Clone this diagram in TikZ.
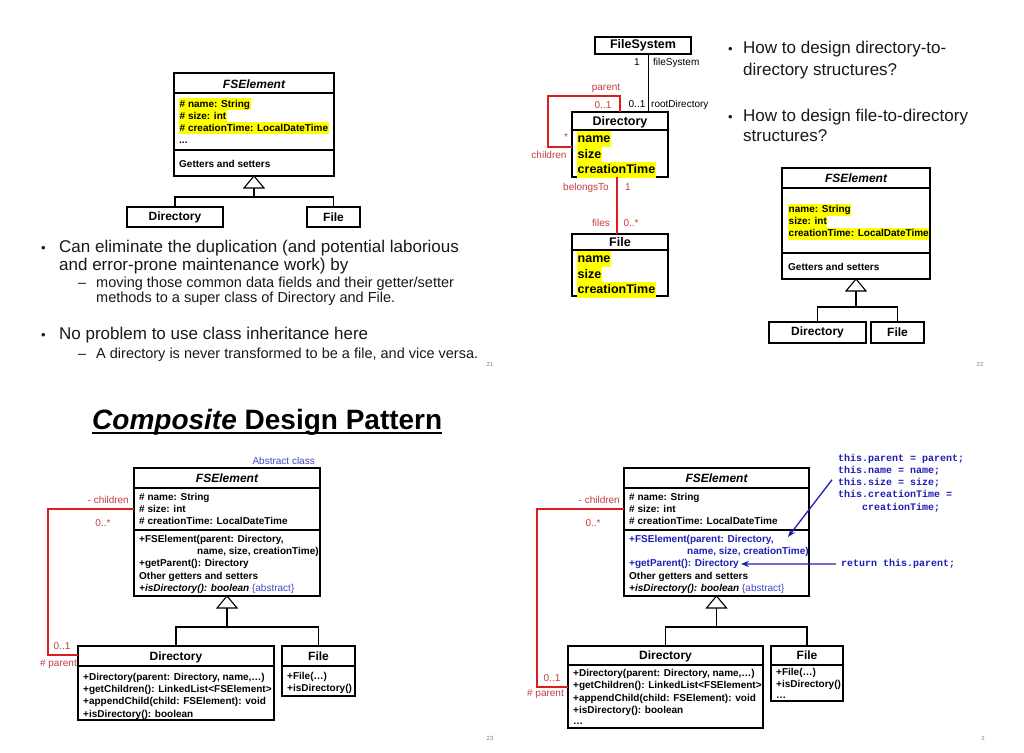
\documentclass[tikz,border=0pt]{standalone}
\usepackage{fontspec}
\setmainfont{Liberation Sans}
\newfontfamily\codefont{Liberation Mono}
\usetikzlibrary{arrows.meta}

\definecolor{umlred}{RGB}{220,30,30}
\definecolor{lblred}{RGB}{200,60,60}
\definecolor{hiyellow}{RGB}{255,255,0}
\definecolor{mblue}{RGB}{30,30,180}
\definecolor{ablue}{RGB}{70,70,200}
\definecolor{slidetxt}{RGB}{25,25,25}

\tikzset{
  cls/.style={draw, line width=1.1pt, inner sep=0pt, outer sep=0pt, font=\bfseries\fontsize{12}{14}\selectfont},
  lft/.style={anchor=base west, inner sep=0pt, font=\bfseries\fontsize{10}{12}\selectfont},
  hl/.style={lft, fill=hiyellow, inner xsep=0.5pt, inner ysep=0.5pt, text height=8.5pt, text depth=2.5pt},
  hlbig/.style={hl, font=\bfseries\fontsize{12.5}{14}\selectfont, text height=10.5pt, text depth=3.5pt, inner ysep=0.75pt},
  ttl/.style={anchor=base, inner sep=0pt, font=\bfseries\itshape\fontsize{12}{14}\selectfont},
  lbl/.style={inner sep=0pt, text=lblred, font=\fontsize{10}{12}\selectfont},
  blbl/.style={inner sep=0pt, font=\fontsize{10}{12}\selectfont},
  bul/.style={anchor=base west, inner sep=0pt, text=slidetxt, font=\fontsize{17}{20}\selectfont},
  subbul/.style={bul, font=\fontsize{14.5}{17}\selectfont},
  codeln/.style={anchor=base west, inner sep=0pt, text=mblue, font=\codefont\bfseries\fontsize{10}{12}\selectfont},
  pgno/.style={anchor=base, inner sep=0pt, text=gray, font=\fontsize{6}{7}\selectfont},
  gen/.style={draw, line width=1.1pt},
  assoc/.style={draw=umlred, line width=1.8pt},
  ptr/.style={mblue, line width=1.3pt, -{Stealth[length=8pt,width=6pt]}}
}
\newcommand{\bdot}[1]{\makebox[#1][l]{\fontsize{13}{14}\selectfont\textbullet}}
\newcommand{\bdash}{\makebox[18pt][l]{--}}

\begin{document}
\begin{tikzpicture}[x=1pt,y=-1pt]
  \fill[white] (0,0) rectangle (1024,752);
  \useasboundingbox (0,0) rectangle (1024,752);

  % ---- slide 21 ----
  % Nodes
  \node[cls, minimum width=160pt, minimum height=103pt] (fse1) at (254,124.5) {};
  \node[ttl] (fse1t) at (254,88) {FSElement};
  \node[hl] (fse1a) at (179,107) {\# name: String};
  \node[hl] (fse1b) at (179,119) {\# size: int};
  \node[hl] (fse1c) at (179,131) {\# creationTime: LocalDateTime};
  \node[lft] (fse1d) at (179,143) {...};
  \node[lft] (fse1m) at (179,167.5) {Getters and setters};
  \node[cls, minimum width=96pt, minimum height=20pt] (dir1) at (175,217) {Directory};
  \node[cls, minimum width=53pt, minimum height=20pt] (file1) at (333.5,217) {File};
  \coordinate (j1) at (254,197);

  \node[bul] (b1a) at (41,252) {\bdot{18pt}Can eliminate the duplication (and potential laborious};
  \node[bul] (b1b) at (59,270) {and error-prone maintenance work) by};
  \node[subbul] (b1c) at (78,287) {\bdash moving those common data fields and their getter/setter};
  \node[subbul] (b1d) at (96,302) {methods to a super class of Directory and File.};
  \node[bul] (b1e) at (41,339) {\bdot{18pt}No problem to use class inheritance here};
  \node[subbul] (b1f) at (78,358) {\bdash A directory is never transformed to be a file, and vice versa.};
  \node[pgno] (pg1) at (490,366) {21};

  % Edges
  \draw[gen] (fse1.west |- 0,93) -- (fse1.east |- 0,93);
  \draw[gen] (fse1.west |- 0,150) -- (fse1.east |- 0,150);
  \draw[gen, fill=white] (fse1.south) -- ++(10,12) -- ++(-20,0) -- cycle;
  \path (fse1.south) ++(0,12) coordinate (tb1);
  \draw[gen] (tb1) -- (j1);
  \draw[gen] (dir1.north) |- (j1) -| (file1.north);

  % ---- slide 22 ----
  % Nodes
  \node[cls, font=\bfseries\fontsize{12.5}{14}\selectfont, minimum width=96pt, minimum height=17pt] (fs) at (643,45.5) {FileSystem};
  \node[blbl, anchor=base] (fsm) at (637,66) {1};
  \node[blbl, anchor=base west] (fsr) at (653,66) {fileSystem};
  \node[lbl, anchor=base] (par2) at (606,90.5) {parent};
  \node[lbl, anchor=base] (par2m) at (603,108.5) {0..1};
  \node[blbl, anchor=base] (root2m) at (637,107.5) {0..1};
  \node[blbl, anchor=base west] (root2) at (651,107.5) {rootDirectory};
  \node[cls, minimum width=96pt, minimum height=65pt] (dir2) at (620,144.5) {};
  \node[anchor=base, inner sep=0pt, font=\bfseries\fontsize{12.5}{14}\selectfont] (dir2t) at (620,125.5) {Directory};
  \node[hlbig] (dir2a) at (577,142.5) {name};
  \node[hlbig] (dir2b) at (577,158) {size};
  \node[hlbig] (dir2c) at (577,173.5) {creationTime};
  \node[lbl, anchor=base] (chl2m) at (566,140) {*};
  \node[lbl, anchor=base] (chl2) at (549,158.5) {children};
  \node[lbl, anchor=base] (bel2) at (586,190.5) {belongsTo};
  \node[lbl, anchor=base] (bel2m) at (628,190.5) {1};
  \node[lbl, anchor=base] (fls2) at (601,226.5) {files};
  \node[lbl, anchor=base] (fls2m) at (631,226.5) {0..*};
  \node[cls, minimum width=96pt, minimum height=62pt] (file2) at (620,265) {};
  \node[anchor=base, inner sep=0pt, font=\bfseries\fontsize{12.5}{14}\selectfont] (file2t) at (620,246.5) {File};
  \node[hlbig] (file2a) at (577,262.5) {name};
  \node[hlbig] (file2b) at (577,278) {size};
  \node[hlbig] (file2c) at (577,293.5) {creationTime};
  \coordinate (fsx) at (648,0);
  \coordinate (bx) at (617,0);
  \coordinate (lp1) at (548,96);
  \coordinate (lp2) at (548,147);

  \node[bul] (b2a) at (728,54) {\bdot{15pt}How to design directory-to-};
  \node[bul] (b2b) at (743,75) {directory structures?};
  \node[bul] (b2c) at (728,121.5) {\bdot{15pt}How to design file-to-directory};
  \node[bul] (b2d) at (743,141.5) {structures?};

  \node[cls, minimum width=148pt, minimum height=111pt] (fse2) at (856,223.5) {};
  \node[ttl] (fse2t) at (856,182.5) {FSElement};
  \node[hl] (fse2a) at (788,212.5) {name: String};
  \node[hl] (fse2b) at (788,224.5) {size: int};
  \node[hl] (fse2c) at (788,236.5) {creationTime: LocalDateTime};
  \node[lft] (fse2m) at (788,270.5) {Getters and setters};
  \node[cls, minimum width=97pt, minimum height=21pt] (dir2s) at (817.5,332.5) {Directory};
  \node[cls, minimum width=53pt, minimum height=21pt] (file2s) at (897.5,332.5) {File};
  \coordinate (j2) at (856,307);
  \node[pgno] (pg2) at (980,366) {22};

  % Edges
  \draw[gen, line width=1pt] (fs.south -| fsx) -- (dir2.north -| fsx);
  \draw[gen] (dir2.west |- 0,130) -- (dir2.east |- 0,130);
  \draw[gen] (file2.west |- 0,250) -- (file2.east |- 0,250);
  \draw[assoc] (dir2.north) |- (lp1) -- (lp2) -- (dir2.west |- lp2);
  \draw[assoc] (dir2.south -| bx) -- (file2.north -| bx);
  \draw[gen] (fse2.west |- 0,188) -- (fse2.east |- 0,188);
  \draw[gen] (fse2.west |- 0,253) -- (fse2.east |- 0,253);
  \draw[gen, fill=white] (fse2.south) -- ++(10,12) -- ++(-20,0) -- cycle;
  \path (fse2.south) ++(0,12) coordinate (tb2);
  \draw[gen] (tb2) -- (j2);
  \draw[gen] (dir2s.north) |- (j2) -| (file2s.north);

  % ---- slide 23 ----
  % Nodes
  \node[anchor=base west, inner sep=0pt, font=\bfseries\fontsize{28}{32}\selectfont] (ttl3) at (92,429) {\textit{Composite} Design Pattern};
  \node[blbl, text=ablue, anchor=base east] (abs3) at (315,464.5) {Abstract class};
  \node[cls, minimum width=186pt, minimum height=128pt] (fse3) at (227,532) {};
  \node[ttl] (fse3t) at (227,482) {FSElement};
  \node[lft] (fse3a) at (139,500.5) {\# name: String};
  \node[lft] (fse3b) at (139,512.5) {\# size: int};
  \node[lft] (fse3c) at (139,524.5) {\# creationTime: LocalDateTime};
  \node[lft] (fse3d) at (139,542.5) {+FSElement(parent: Directory,};
  \node[lft] (fse3e) at (197,554.5) {name, size, creationTime)};
  \node[lft] (fse3f) at (139,566.5) {+getParent(): Directory};
  \node[lft] (fse3g) at (139,579) {Other getters and setters};
  \node[lft] (fse3h) at (139,591.5) {\textit{+isDirectory(): boolean} {\mdseries\color{ablue}\{abstract\}}};
  \node[lbl, anchor=base east] (chl3) at (129,503.5) {- children};
  \node[lbl, anchor=base] (chl3m) at (103,526) {0..*};
  \node[lbl, anchor=base] (par3m) at (62,649.5) {0..1};
  \node[lbl, anchor=base east] (par3) at (77,666) {\# parent};
  \node[cls, minimum width=196pt, minimum height=74pt] (dir3) at (176,683) {};
  \node[anchor=base, inner sep=0pt, font=\bfseries\fontsize{12}{14}\selectfont] (dir3t) at (176,660.5) {Directory};
  \node[lft] (dir3a) at (83,680.5) {+Directory(parent: Directory, name,…)};
  \node[lft] (dir3b) at (83,692.5) {+getChildren(): LinkedList<FSElement>};
  \node[lft] (dir3c) at (83,704.5) {+appendChild(child: FSElement): void};
  \node[lft] (dir3d) at (83,717) {+isDirectory(): boolean};
  \node[cls, minimum width=73pt, minimum height=50pt] (file3) at (318.5,671) {};
  \node[anchor=base, inner sep=0pt, font=\bfseries\fontsize{12}{14}\selectfont] (file3t) at (318.5,660.5) {File};
  \node[lft] (file3a) at (287,679.5) {+File(…)};
  \node[lft] (file3b) at (287,691.5) {+isDirectory()};
  \coordinate (j3) at (227,627);
  \coordinate (ch3a) at (48,509);
  \coordinate (ch3b) at (48,655);
  \node[pgno] (pg3) at (490,740) {23};

  % Edges
  \draw[line width=1.4pt] ([yshift=-4pt]ttl3.base west) -- ([yshift=-4pt]ttl3.base east);
  \draw[gen] (fse3.west |- 0,488) -- (fse3.east |- 0,488);
  \draw[gen] (fse3.west |- 0,530) -- (fse3.east |- 0,530);
  \draw[gen] (dir3.west |- 0,666) -- (dir3.east |- 0,666);
  \draw[gen] (file3.west |- 0,666) -- (file3.east |- 0,666);
  \draw[gen, fill=white] (fse3.south) -- ++(10,12) -- ++(-20,0) -- cycle;
  \path (fse3.south) ++(0,12) coordinate (tb3);
  \draw[gen] (tb3) -- (j3);
  \draw[gen] (dir3.north) |- (j3) -| (file3.north);
  \draw[assoc] (fse3.west |- ch3a) -- (ch3a) -- (ch3b) -- (dir3.west |- ch3b);

  % ---- slide 2 ----
  % Nodes
  \node[cls, minimum width=185pt, minimum height=128pt] (fse4) at (716.5,532) {};
  \node[ttl] (fse4t) at (716.5,482) {FSElement};
  \node[lft] (fse4a) at (629,500.5) {\# name: String};
  \node[lft] (fse4b) at (629,512.5) {\# size: int};
  \node[lft] (fse4c) at (629,524.5) {\# creationTime: LocalDateTime};
  \node[lft, text=mblue] (fse4d) at (629,542.5) {+FSElement(parent: Directory,};
  \node[lft, text=mblue] (fse4e) at (687,554.5) {name, size, creationTime)};
  \node[lft, text=mblue] (fse4f) at (629,566.5) {+getParent(): Directory};
  \node[lft] (fse4g) at (629,579) {Other getters and setters};
  \node[lft] (fse4h) at (629,591.5) {\textit{+isDirectory(): boolean} {\mdseries\color{ablue}\{abstract\}}};
  \node[lbl, anchor=base east] (chl4) at (620,503.5) {- children};
  \node[lbl, anchor=base] (chl4m) at (593,526) {0..*};
  \node[lbl, anchor=base] (par4m) at (552,681.5) {0..1};
  \node[lbl, anchor=base east] (par4) at (564,696.5) {\# parent};
  \node[cls, minimum width=195pt, minimum height=82pt] (dir4) at (665.5,687) {};
  \node[anchor=base, inner sep=0pt, font=\bfseries\fontsize{12}{14}\selectfont] (dir4t) at (665.5,659.5) {Directory};
  \node[lft] (dir4a) at (573,676.5) {+Directory(parent: Directory, name,…)};
  \node[lft] (dir4b) at (573,688.5) {+getChildren(): LinkedList<FSElement>};
  \node[lft] (dir4c) at (573,701) {+appendChild(child: FSElement): void};
  \node[lft] (dir4d) at (573,713) {+isDirectory(): boolean};
  \node[lft] (dir4e) at (573,724.5) {…};
  \node[cls, minimum width=72pt, minimum height=55pt] (file4) at (807,673.5) {};
  \node[anchor=base, inner sep=0pt, font=\bfseries\fontsize{12}{14}\selectfont] (file4t) at (807,659.5) {File};
  \node[lft] (file4a) at (776,675.5) {+File(…)};
  \node[lft] (file4b) at (776,687.5) {+isDirectory()};
  \node[lft] (file4c) at (776,698.5) {…};
  \coordinate (j4) at (716.5,627);
  \coordinate (ch4a) at (537,509);
  \coordinate (ch4b) at (537,687);

  \node[codeln] (cd1) at (838,461.5) {this.parent = parent;};
  \node[codeln] (cd2) at (838,473.5) {this.name = name;};
  \node[codeln] (cd3) at (838,485.5) {this.size = size;};
  \node[codeln] (cd4) at (838,497.5) {this.creationTime =};
  \node[codeln] (cd5) at (862,510) {creationTime;};
  \node[codeln] (ret4) at (841,566.5) {return this.parent;};
  \coordinate (tg1) at (788,537);
  \node[pgno] (pg4) at (983,740) {2};

  % Edges
  \draw[gen] (fse4.west |- 0,488) -- (fse4.east |- 0,488);
  \draw[gen] (fse4.west |- 0,530) -- (fse4.east |- 0,530);
  \draw[gen] (dir4.west |- 0,665) -- (dir4.east |- 0,665);
  \draw[gen] (file4.west |- 0,665) -- (file4.east |- 0,665);
  \draw[gen, fill=white] (fse4.south) -- ++(10,12) -- ++(-20,0) -- cycle;
  \path (fse4.south) ++(0,12) coordinate (tb4);
  \draw[gen] (tb4) -- (j4);
  \draw[gen] (dir4.north) |- (j4) -| (file4.north);
  \draw[assoc] (fse4.west |- ch4a) -- (ch4a) -- (ch4b) -- (dir4.west |- ch4b);
  \draw[ptr] ([xshift=-6pt,yshift=3pt]cd3.west) -- (tg1);
  \draw[ptr] ([xshift=-5pt]ret4.west) -- ([xshift=2pt]fse4f.east);
\end{tikzpicture}
\end{document}
